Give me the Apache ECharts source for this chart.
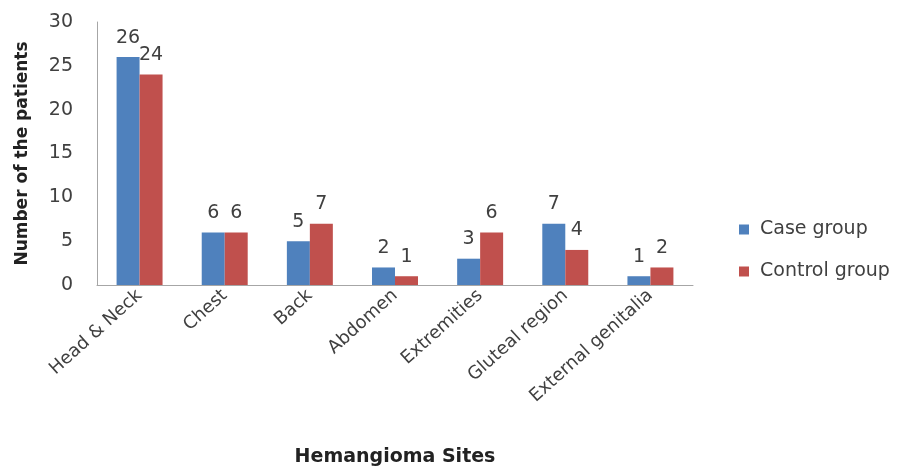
<!DOCTYPE html>
<html>
<head>
<meta charset="utf-8">
<script src="https://cdn.jsdelivr.net/npm/echarts@6/dist/echarts.min.js"></script>
<style>
  html, body { margin: 0; padding: 0; background: #fff; }
  #chart { width: 909px; height: 472px; }
</style>
</head>
<body>
<div id="chart"></div>
<script>
// Hemangioma sites by group
const sites = ['Head & Neck', 'Chest', 'Back', 'Abdomen', 'Extremities', 'Gluteal region', 'External genitalia'];
const caseGroup = [26, 6, 5, 2, 3, 7, 1];
const controlGroup = [24, 6, 7, 1, 6, 4, 2];
const yTicks = { min: 0, max: 30, interval: 5 };

const FONT = '"DejaVu Sans", sans-serif';
const chart = echarts.init(document.getElementById('chart'));

const labelStyle = {
  show: true,
  position: 'top',
  distance: 10,
  color: '#404040',
  fontSize: 19,
  fontFamily: FONT
};

chart.setOption({
  animation: false,
  grid: { left: 97, right: 216, top: 22, bottom: 187, outerBoundsMode: 'none' },
  legend: {
    orient: 'vertical',
    left: 734,
    top: 215,
    itemWidth: 10,
    itemHeight: 10,
    itemGap: 23,
    itemStyle: { borderWidth: 0 },
    icon: 'rect',
    textStyle: { fontSize: 19, color: '#404040', fontFamily: FONT, padding: [0, 0, 0, 6] },
    data: ['Case group', 'Control group']
  },
  xAxis: {
    type: 'category',
    data: sites,
    name: 'Hemangioma Sites',
    nameLocation: 'middle',
    nameGap: 163,
    nameTextStyle: { fontSize: 19, fontWeight: 'bold', color: '#222', fontFamily: FONT },
    axisLine: { lineStyle: { color: '#a6a6a6' } },
    axisTick: { show: false },
    axisLabel: { rotate: 42, fontSize: 18, color: '#404040', fontFamily: FONT, margin: 8 }
  },
  yAxis: {
    type: 'value',
    min: yTicks.min,
    max: yTicks.max,
    interval: yTicks.interval,
    name: 'Number of the patients',
    nameLocation: 'middle',
    nameGap: 66,
    nameTextStyle: { fontSize: 17, fontWeight: 'bold', color: '#222', fontFamily: FONT },
    axisLine: { show: true, lineStyle: { color: '#a6a6a6' } },
    axisTick: { show: false },
    splitLine: { show: false },
    axisLabel: { fontSize: 19, color: '#404040', fontFamily: FONT, margin: 24 }
  },
  series: [
    {
      name: 'Case group',
      type: 'bar',
      data: caseGroup,
      barGap: '0%',
      barCategoryGap: '46%',
      itemStyle: { color: '#4F81BD' },
      label: labelStyle
    },
    {
      name: 'Control group',
      type: 'bar',
      data: controlGroup,
      itemStyle: { color: '#C0504D' },
      label: labelStyle
    }
  ]
});
</script>
</body>
</html>
